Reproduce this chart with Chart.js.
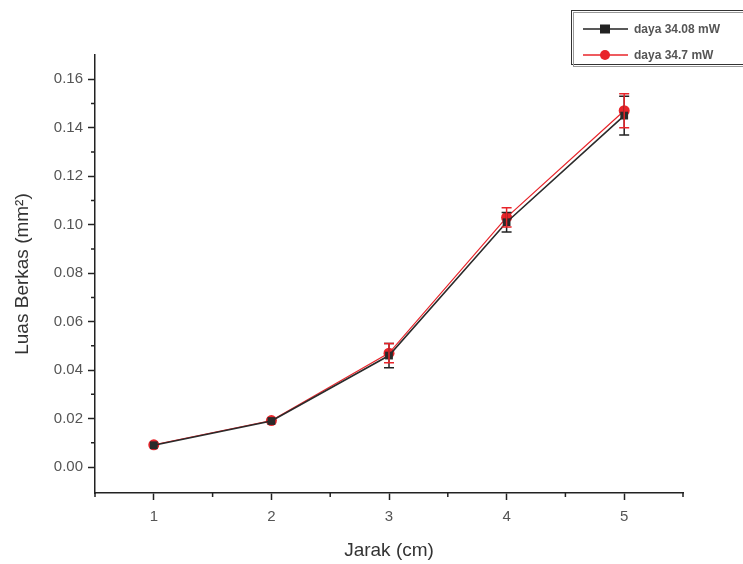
<!DOCTYPE html>
<html>
<head>
<meta charset="utf-8">
<script src="https://cdn.jsdelivr.net/npm/chart.js@4.4.1/dist/chart.umd.min.js"></script>
<style>
  html, body { margin: 0; padding: 0; background: #fff; }
  #wrap { width: 743px; height: 564px; position: relative; }
</style>
</head>
<body>
<div id="wrap"><canvas id="chart" width="743" height="564"></canvas></div>
<script>
// --- DADOS ---
const jarak = [1, 2, 3, 4, 5];
const daya1Label = 'daya 34.08 mW';
const daya1Luas = [0.009, 0.019, 0.046, 0.101, 0.145];
const daya1Err = [0.0005, 0.0008, 0.005, 0.004, 0.008];
const daya2Label = 'daya 34.7 mW';
const daya2Luas = [0.0092, 0.0192, 0.047, 0.103, 0.147];
const daya2Err = [0.0005, 0.0008, 0.004, 0.004, 0.007];
const yTicks = [0, 0.02, 0.04, 0.06, 0.08, 0.10, 0.12, 0.14, 0.16];
const yMinorTicks = [0.01, 0.03, 0.05, 0.07, 0.09, 0.11, 0.13, 0.15];
const xTicks = [1, 2, 3, 4, 5];
const xMinorTicks = [0.5, 1.5, 2.5, 3.5, 4.5, 5.5];

const FONT = 'Liberation Sans, Arial, sans-serif';
const toPoints = (vals) => jarak.map((x, i) => ({ x, y: vals[i] }));

// --- PLUGINS ---
// barras de erro desenhadas pelas escalas do gráfico
const errorBars = {
  id: 'errorBars',
  afterDatasetsDraw(chart) {
    const { ctx, scales: { x, y } } = chart;
    const errs = [daya1Err, daya2Err];
    const vals = [daya1Luas, daya2Luas];
    const colors = ['#222', '#e8242a'];
    ctx.save();
    errs.forEach((err, d) => {
      ctx.strokeStyle = colors[d];
      ctx.lineWidth = 1.5;
      jarak.forEach((xv, i) => {
        const px = x.getPixelForValue(xv);
        const top = y.getPixelForValue(vals[d][i] + err[i]);
        const bot = y.getPixelForValue(vals[d][i] - err[i]);
        if (bot - top < 12) return;
        ctx.beginPath();
        ctx.moveTo(px, top); ctx.lineTo(px, bot);
        ctx.moveTo(px - 5, top); ctx.lineTo(px + 5, top);
        ctx.moveTo(px - 5, bot); ctx.lineTo(px + 5, bot);
        ctx.stroke();
      });
    });
    ctx.restore();
  }
};

// ticks menores nos eixos
const minorTicks = {
  id: 'minorTicks',
  afterDraw(chart) {
    const { ctx, scales: { x, y }, chartArea } = chart;
    ctx.save();
    ctx.strokeStyle = '#222';
    ctx.lineWidth = 1.5;
    ctx.beginPath();
    yMinorTicks.forEach(v => {
      const py = y.getPixelForValue(v);
      ctx.moveTo(chartArea.left - 4, py); ctx.lineTo(chartArea.left, py);
    });
    xMinorTicks.forEach(v => {
      const px = x.getPixelForValue(v);
      ctx.moveTo(px, chartArea.bottom); ctx.lineTo(px, chartArea.bottom + 4);
    });
    ctx.stroke();
    ctx.restore();
  }
};

// legenda em caixa no canto superior direito
const boxLegend = {
  id: 'boxLegend',
  afterDraw(chart) {
    const { ctx } = chart;
    ctx.save();
    ctx.strokeStyle = '#333';
    ctx.lineWidth = 1;
    ctx.strokeRect(571.5, 10.5, 180, 54);
    ctx.strokeStyle = '#999';
    ctx.strokeRect(573.5, 12.5, 180, 54);
    ctx.font = 'bold 12px ' + FONT;
    ctx.textBaseline = 'middle';
    ctx.fillStyle = '#444';
    const rows = [
      { y: 29, color: '#222', label: daya1Label, square: true },
      { y: 55, color: '#e8242a', label: daya2Label, square: false }
    ];
    rows.forEach(r => {
      ctx.strokeStyle = r.color;
      ctx.lineWidth = 1.3;
      ctx.beginPath(); ctx.moveTo(583, r.y); ctx.lineTo(628, r.y); ctx.stroke();
      ctx.fillStyle = r.color;
      if (r.square) {
        ctx.fillRect(600, r.y - 4.5, 10, 9);
      } else {
        ctx.beginPath(); ctx.arc(605, r.y, 5, 0, Math.PI * 2); ctx.fill();
      }
      ctx.fillStyle = '#555';
      ctx.fillText(r.label, 634, r.y + 1);
    });
    ctx.restore();
  }
};

// --- GRÁFICO ---
const ctx = document.getElementById('chart').getContext('2d');
new Chart(ctx, {
  type: 'line',
  data: {
    datasets: [
      {
        label: daya1Label,
        data: toPoints(daya1Luas),
        borderColor: '#2a2a2a',
        backgroundColor: '#2a2a2a',
        borderWidth: 1.6,
        pointStyle: 'rect',
        pointRadius: 5.5,
        pointBorderWidth: 0,
        tension: 0
      },
      {
        label: daya2Label,
        data: toPoints(daya2Luas),
        borderColor: '#e8242a',
        backgroundColor: '#e8242a',
        borderWidth: 1.2,
        pointStyle: 'circle',
        pointRadius: 5.5,
        pointBorderWidth: 0,
        tension: 0
      }
    ]
  },
  options: {
    responsive: false,
    animation: false,
    layout: { padding: { top: 55, right: 60, left: 0, bottom: 0 } },
    plugins: { legend: { display: false }, tooltip: { enabled: false } },
    scales: {
      x: {
        type: 'linear',
        min: 0.5,
        max: 5.5,
        afterBuildTicks: (s) => { s.ticks = xTicks.map(v => ({ value: v })); },
        afterFit: (s) => { s.height = 71; },
        border: { display: true, color: '#222', width: 1.5 },
        grid: { drawOnChartArea: false, drawTicks: true, tickLength: 7, color: '#222', tickWidth: 1.5 },
        ticks: { color: '#555', font: { family: FONT, size: 15 }, padding: 8, callback: (v) => String(v) },
        title: { display: true, text: 'Jarak (cm)', color: '#333', font: { family: FONT, size: 19 }, padding: { top: 4, bottom: 2 } }
      },
      y: {
        type: 'linear',
        min: -0.0107,
        max: 0.17,
        afterBuildTicks: (s) => { s.ticks = yTicks.map(v => ({ value: v })); },
        afterFit: (s) => { s.width = 95; },
        border: { display: true, color: '#222', width: 1.5 },
        grid: { drawOnChartArea: false, drawTicks: true, tickLength: 7, color: '#222', tickWidth: 1.5 },
        ticks: { color: '#555', font: { family: FONT, size: 15 }, padding: 5, callback: (v) => v.toFixed(2) },
        title: { display: true, text: 'Luas Berkas (mm²)', color: '#333', font: { family: FONT, size: 19 }, padding: { top: 11, bottom: 4 } }
      }
    }
  },
  plugins: [errorBars, minorTicks, boxLegend]
});
</script>
</body>
</html>
